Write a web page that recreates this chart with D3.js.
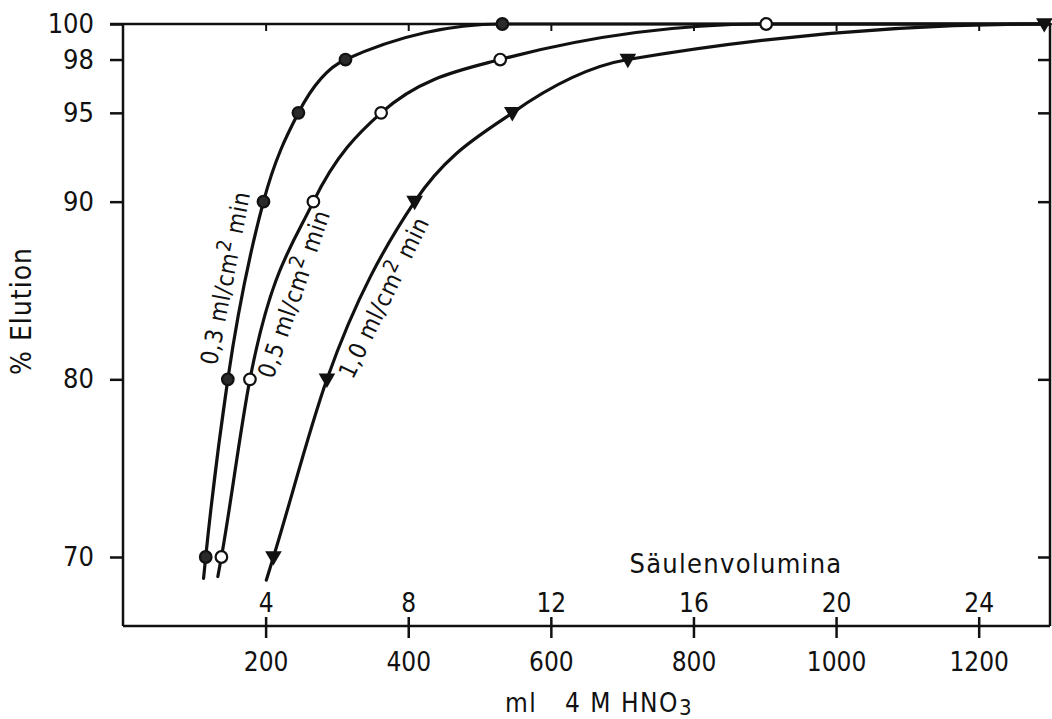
<!DOCTYPE html>
<html>
<head>
<meta charset="utf-8">
<script src="https://cdn.jsdelivr.net/npm/d3@7"></script>
<style>
  html, body { margin: 0; padding: 0; background: #fff; }
  svg { display: block; }
  text { font-family: "DejaVu Sans Condensed", "DejaVu Sans", "Liberation Sans", sans-serif; font-stretch: condensed; fill: #111; }
</style>
</head>
<body>
<svg id="chart" width="1052" height="719"></svg>
<script>
// Elution (%) vs. volume of 4 M HNO3 (ml) at three flow rates
const elutionLevels = [70, 80, 90, 95, 98, 100];
const volume03 = [116, 147, 197, 246, 312, 532];   // 0,3 ml/cm² min
const volume05 = [138, 178, 267, 362, 529, 902];   // 0,5 ml/cm² min
const volume10 = [211, 286, 409, 546, 708, 1292];  // 1,0 ml/cm² min

// where each drawn curve begins, below the 70 % level
const curveStartVolume = [113, 133, 201];
const curveStartElution = [68.8, 68.9, 68.7];

const seriesLabels = ["0,3", "0,5", "1,0"];
const seriesMarkers = ["filled", "open", "triangle"];
// label anchor along each curve (ml, %) and the slope of the text
const labelVolume = [144, 240, 366];
const labelElution = [85.7, 84.8, 84.6];
const labelAngle = [-79, -71, -64];

const volumeTicks = [200, 400, 600, 800, 1000, 1200];
const columnVolumeTicks = [4, 8, 12, 16, 20, 24];
const mlPerColumnVolume = 50;
const elutionTicks = [70, 80, 90, 95, 98, 100];

const svg = d3.select("#chart");
const plotLeft = 123, plotRight = 1050, plotTop = 24, plotBottom = 626;

const x = d3.scaleLinear().domain([0, 1300]).range([plotLeft, plotRight]);
const y = d3.scaleLinear().domain([70, 100]).range([557, plotTop]);

const ink = "#111";

// frame: top, right, bottom and left lines
const frame = svg.append("g").attr("stroke", ink).attr("stroke-width", 2.5).attr("fill", "none");
frame.append("line").attr("x1", 110).attr("x2", plotRight).attr("y1", plotTop).attr("y2", plotTop);
frame.append("line").attr("x1", plotRight).attr("x2", plotRight).attr("y1", plotTop).attr("y2", plotBottom);
frame.append("line").attr("x1", plotLeft).attr("x2", plotRight).attr("y1", plotBottom).attr("y2", plotBottom);
frame.append("line").attr("x1", plotLeft).attr("x2", plotLeft).attr("y1", plotTop).attr("y2", plotBottom);

// left axis (outward ticks) and right-hand inward ticks
const yAxis = d3.axisLeft(y).tickValues(elutionTicks).tickSize(13).tickPadding(16).tickFormat(d3.format("d"));
const gy = svg.append("g").attr("transform", `translate(${plotLeft},0)`).call(yAxis);
gy.select(".domain").remove();
gy.selectAll(".tick line").attr("stroke", ink).attr("stroke-width", 2.5);
gy.selectAll(".tick text").attr("font-size", 27).attr("fill", ink);

const gyR = svg.append("g").attr("transform", `translate(${plotRight},0)`)
  .call(d3.axisLeft(y).tickValues(elutionTicks.filter(d => d < 100)).tickSize(12).tickFormat(""));
gyR.select(".domain").remove();
gyR.selectAll(".tick line").attr("stroke", ink).attr("stroke-width", 2.5);

// top inward ticks
const gxT = svg.append("g").attr("transform", `translate(0,${plotTop})`)
  .call(d3.axisBottom(x).tickValues(volumeTicks).tickSize(7).tickFormat(""));
gxT.select(".domain").remove();
gxT.selectAll(".tick line").attr("stroke", ink).attr("stroke-width", 2);

// bottom axis: ml ticks crossing the line, ml labels below
const gx = svg.append("g").attr("transform", `translate(0,${plotBottom})`)
  .call(d3.axisBottom(x).tickValues(volumeTicks).tickSize(12).tickPadding(15).tickFormat(d3.format("d")));
gx.select(".domain").remove();
gx.selectAll(".tick line").attr("stroke", ink).attr("stroke-width", 2.5).attr("y1", -9);
gx.selectAll(".tick text").attr("font-size", 26).attr("fill", ink);

// column volumes above the same ticks
const gcv = svg.append("g").attr("transform", `translate(0,${plotBottom})`)
  .call(d3.axisTop(d3.scaleLinear().domain(x.domain().map(d => d / mlPerColumnVolume)).range(x.range()))
    .tickValues(columnVolumeTicks).tickSize(0).tickPadding(14).tickFormat(d3.format("d")));
gcv.select(".domain").remove();
gcv.selectAll(".tick text").attr("font-size", 26).attr("fill", ink);

// axis titles
svg.append("text").attr("x", 736).attr("y", 573).attr("text-anchor", "middle")
  .attr("font-size", 27).attr("letter-spacing", 1.3).text("Säulenvolumina");

const xt = svg.append("text").attr("x", 505).attr("y", 712).attr("font-size", 26).attr("letter-spacing", 1.5);
xt.append("tspan").text("ml");
xt.append("tspan").attr("x", 565).text("4 M HNO");
xt.append("tspan").attr("dy", 3).attr("font-size", 22).text("3");

svg.append("text").attr("transform", "translate(31,311) rotate(-90)").attr("text-anchor", "middle")
  .attr("font-size", 28).attr("letter-spacing", 1).text("% Elution");

// curves and markers
const allVolumes = [volume03, volume05, volume10];
const line = d3.line().x(d => x(d[0])).y(d => y(d[1])).curve(d3.curveMonotoneX);

allVolumes.forEach((vols, i) => {
  const pts = [[curveStartVolume[i], curveStartElution[i]]].concat(vols.map((v, k) => [v, elutionLevels[k]]));
  if (vols[vols.length - 1] < 1300) pts.push([1300, 100]);
  svg.append("path").datum(pts).attr("d", line)
    .attr("fill", "none").attr("stroke", ink).attr("stroke-width", 3.2).attr("stroke-linecap", "round");
});

allVolumes.forEach((vols, i) => {
  const g = svg.append("g");
  const data = vols.map((v, k) => [v, elutionLevels[k]]);
  if (seriesMarkers[i] === "triangle") {
    g.selectAll("path").data(data).join("path")
      .attr("d", d3.symbol(d3.symbolTriangle, 120))
      .attr("transform", d => `translate(${x(d[0])},${y(d[1]) - 1}) rotate(180)`)
      .attr("fill", ink);
  } else {
    g.selectAll("circle").data(data).join("circle")
      .attr("cx", d => x(d[0])).attr("cy", d => y(d[1])).attr("r", 5.8)
      .attr("fill", seriesMarkers[i] === "filled" ? "#2a2a2a" : "#fff")
      .attr("stroke", ink).attr("stroke-width", 2.2);
  }
});

// flow-rate labels written along the curves
seriesLabels.forEach((lab, i) => {
  const t = svg.append("text")
    .attr("transform", `translate(${x(labelVolume[i])},${y(labelElution[i])}) rotate(${labelAngle[i]})`)
    .attr("text-anchor", "middle").attr("dominant-baseline", "central")
    .attr("font-size", 24).attr("letter-spacing", 0.6);
  t.append("tspan").text(lab + " ml/cm");
  t.append("tspan").attr("dy", -8).attr("font-size", 20).text("2");
  t.append("tspan").attr("dy", 8).text(" min");
});
</script>
</body>
</html>
